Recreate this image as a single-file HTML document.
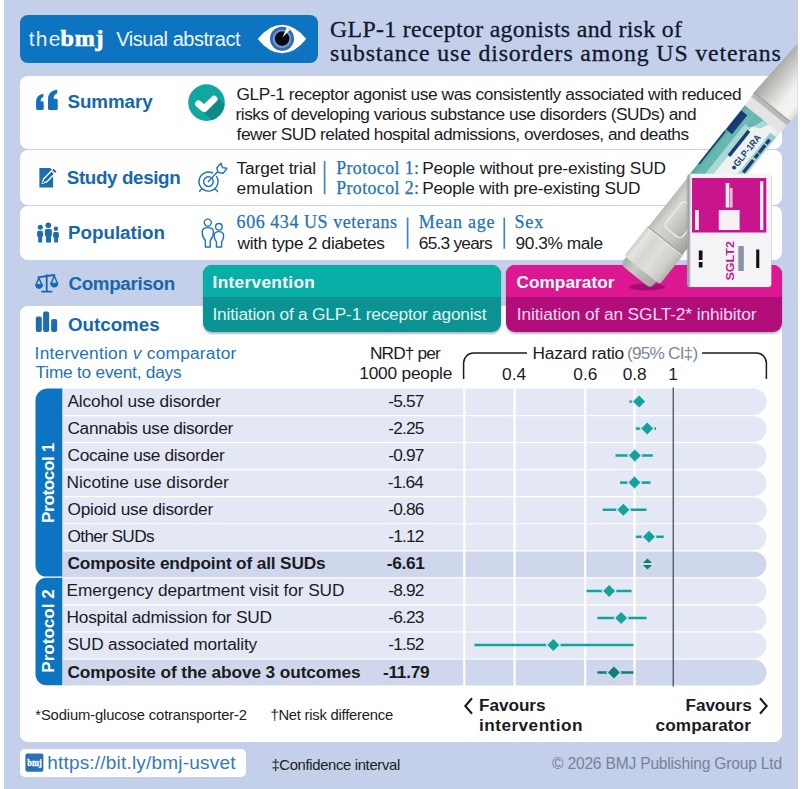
<!DOCTYPE html>
<html lang="en"><head><meta charset="utf-8"><title>GLP-1 receptor agonists and risk of substance use disorders among US veterans</title>
<style>
html,body{margin:0;padding:0;}
body{width:800px;height:789px;position:relative;overflow:hidden;background:#fff;font-family:"Liberation Sans",sans-serif;}
.t{position:absolute;white-space:pre;line-height:1;}
.abs{position:absolute;}
</style></head><body>
<div class="abs" style="left:4px;top:0;width:793.5px;height:789px;background:#c4d0e9;"></div>
<!-- header -->
<div class="abs" style="left:20px;top:15px;width:297.5px;height:47.5px;border-radius:8px;background:#0c74c1;"></div>
<!-- panels -->
<div class="abs" style="left:19.5px;top:76px;width:762.5px;height:73px;border-radius:8px;background:#fff;"></div>
<div class="abs" style="left:19.5px;top:150.4px;width:762.5px;height:54.4px;border-radius:8px;background:#fff;"></div>
<div class="abs" style="left:19.5px;top:206.2px;width:762.5px;height:54px;border-radius:8px;background:#fff;"></div>
<div class="abs" style="left:19.5px;top:305.5px;width:762.5px;height:436.5px;border-radius:8px;background:#fff;"></div>
<div class="abs" style="left:20px;top:749px;width:226px;height:28px;border-radius:5px;background:#fff;"></div>
<!-- comparison boxes -->
<div class="abs" style="left:203px;top:265px;width:298px;height:66.5px;border-radius:9px;background:#0b9393;box-shadow:0 1.5px 2px rgba(40,60,90,.35);overflow:hidden;"><div style="height:32px;background:#07afa7;"></div></div>
<div class="abs" style="left:505.5px;top:265px;width:276px;height:66.5px;border-radius:9px;background:#b20e79;box-shadow:0 1.5px 2px rgba(40,60,90,.35);overflow:hidden;"><div style="height:32px;background:#dc1791;"></div></div>
<!-- main svg layer -->
<svg class="abs" style="left:0;top:0;" width="800" height="789" viewBox="0 0 800 789">
<defs>
<radialGradient id="iris" cx="0.5" cy="0.5" r="0.5"><stop offset="0" stop-color="#7aa6de"/><stop offset="0.72" stop-color="#6f9ad6"/><stop offset="0.8" stop-color="#3a6cb6"/><stop offset="1" stop-color="#2d5fab"/></radialGradient>
<clipPath id="rowsclip"><rect x="0" y="0" width="800" height="789"/></clipPath>
</defs>
<path d="M62.6 388.5 H753.275 A13.225000000000001 13.225000000000001 0 0 1 753.275 414.95 H62.6 Z" fill="#e4e8f5"/>
<path d="M62.6 416.15000000000003 H753.575 A12.925 12.925 0 0 1 753.575 442.00000000000006 H62.6 Z" fill="#e4e8f5"/>
<path d="M62.6 443.20000000000005 H753.575 A12.925 12.925 0 0 1 753.575 469.05000000000007 H62.6 Z" fill="#e4e8f5"/>
<path d="M62.6 470.25 H753.575 A12.925 12.925 0 0 1 753.575 496.1 H62.6 Z" fill="#e4e8f5"/>
<path d="M62.6 497.3 H753.575 A12.925 12.925 0 0 1 753.575 523.15 H62.6 Z" fill="#e4e8f5"/>
<path d="M62.6 524.35 H753.575 A12.925 12.925 0 0 1 753.575 550.2 H62.6 Z" fill="#e4e8f5"/>
<path d="M62.6 551.4000000000001 H753.575 A12.925 12.925 0 0 1 753.575 577.2500000000001 H62.6 Z" fill="#cfd7ec"/>
<path d="M62.6 578.45 H753.575 A12.925 12.925 0 0 1 753.575 604.3000000000001 H62.6 Z" fill="#e4e8f5"/>
<path d="M62.6 605.5 H753.575 A12.925 12.925 0 0 1 753.575 631.35 H62.6 Z" fill="#e4e8f5"/>
<path d="M62.6 632.5500000000001 H753.575 A12.925 12.925 0 0 1 753.575 658.4000000000001 H62.6 Z" fill="#e4e8f5"/>
<path d="M62.6 659.6 H753.575 A12.925 12.925 0 0 1 753.575 685.45 H62.6 Z" fill="#cfd7ec"/>
<rect x="463.2" y="387.5" width="2.2" height="299" fill="#fff"/>
<rect x="513.5" y="387.5" width="2.2" height="299" fill="#fff"/>
<rect x="584.1" y="387.5" width="2.2" height="299" fill="#fff"/>
<rect x="633.4" y="387.5" width="2.2" height="299" fill="#fff"/>
<rect x="672.6" y="387.5" width="1.3" height="299" fill="#4a4f63"/>
<path d="M62.3 388.5 H47.5 A12 12 0 0 0 35.5 400.5 V565.6 A11 11 0 0 0 46.5 576.6 H62.3 Z" fill="#0c74c1"/>
<path d="M62.3 577.8 H46.5 A11 11 0 0 0 35.5 588.8 V674.3 A11 11 0 0 0 46.5 685.3 H62.3 Z" fill="#0c74c1"/>
<path d="M629.5 401.6 H640" stroke="#12a39b" stroke-width="2.5"/>
<path d="M631.3000000000001 401.6 L639.1 393.8 L646.9 401.6 L639.1 409.40000000000003 Z" fill="#e4e8f5"/>
<path d="M633.1 401.6 L639.1 395.6 L645.1 401.6 L639.1 407.6 Z" fill="#12a39b"/>
<path d="M635.8 428.6 H656.1" stroke="#12a39b" stroke-width="2.5"/>
<path d="M639.4000000000001 428.6 L647.2 420.8 L655.0 428.6 L647.2 436.40000000000003 Z" fill="#e4e8f5"/>
<path d="M641.2 428.6 L647.2 422.6 L653.2 428.6 L647.2 434.6 Z" fill="#12a39b"/>
<path d="M615.5 455.6 H652.8" stroke="#12a39b" stroke-width="2.5"/>
<path d="M627.0 455.6 L634.8 447.8 L642.5999999999999 455.6 L634.8 463.40000000000003 Z" fill="#e4e8f5"/>
<path d="M628.8 455.6 L634.8 449.6 L640.8 455.6 L634.8 461.6 Z" fill="#12a39b"/>
<path d="M620.1 482.6 H650.5" stroke="#12a39b" stroke-width="2.5"/>
<path d="M626.7 482.6 L634.5 474.8 L642.3 482.6 L634.5 490.40000000000003 Z" fill="#e4e8f5"/>
<path d="M628.5 482.6 L634.5 476.6 L640.5 482.6 L634.5 488.6 Z" fill="#12a39b"/>
<path d="M602.8 509.7 H646.5" stroke="#12a39b" stroke-width="2.5"/>
<path d="M615.6 509.7 L623.4 501.9 L631.1999999999999 509.7 L623.4 517.5 Z" fill="#e4e8f5"/>
<path d="M617.4 509.7 L623.4 503.7 L629.4 509.7 L623.4 515.7 Z" fill="#12a39b"/>
<path d="M635.8 536.8 H663.7" stroke="#12a39b" stroke-width="2.5"/>
<path d="M641.2 536.8 L649 529.0 L656.8 536.8 L649 544.5999999999999 Z" fill="#e4e8f5"/>
<path d="M643.0 536.8 L649 530.8 L655.0 536.8 L649 542.8 Z" fill="#12a39b"/>
<path d="M641.9 564 L647.5 558.4 L653.1 564 L647.5 569.6 Z" fill="#0e7f79"/>
<path d="M641.4 564 H653.6" stroke="#eef1f9" stroke-width="1.7"/>
<path d="M586.6 591 H631.6" stroke="#12a39b" stroke-width="2.5"/>
<path d="M601.3000000000001 591 L609.1 583.2 L616.9 591 L609.1 598.8 Z" fill="#e4e8f5"/>
<path d="M603.1 591 L609.1 585.0 L615.1 591 L609.1 597.0 Z" fill="#12a39b"/>
<path d="M597.4 618 H646.6" stroke="#12a39b" stroke-width="2.5"/>
<path d="M613.3000000000001 618 L621.1 610.2 L628.9 618 L621.1 625.8 Z" fill="#e4e8f5"/>
<path d="M615.1 618 L621.1 612.0 L627.1 618 L621.1 624.0 Z" fill="#12a39b"/>
<path d="M474.4 645 H633.4" stroke="#12a39b" stroke-width="2.5"/>
<path d="M545.5 645 L553.3 637.2 L561.0999999999999 645 L553.3 652.8 Z" fill="#e4e8f5"/>
<path d="M547.3 645 L553.3 639.0 L559.3 645 L553.3 651.0 Z" fill="#12a39b"/>
<path d="M597.4 672.4 H633.4" stroke="#0e7f79" stroke-width="2.5"/>
<path d="M606.1 672.4 L613.9 664.6 L621.6999999999999 672.4 L613.9 680.1999999999999 Z" fill="#cfd7ec"/>
<path d="M607.9 672.4 L613.9 666.4 L619.9 672.4 L613.9 678.4 Z" fill="#0e7f79"/>
<path d="M463.6 379 V363 A10 10 0 0 1 473.6 353 H527 M702 353 H756.4 A10 10 0 0 1 766.4 363 V379" fill="none" stroke="#1b1b1f" stroke-width="1.5"/>
<path d="M472 698.2 L465.3 706 L472 713.8" fill="none" stroke="#1b1b1f" stroke-width="2.1"/>
<path d="M760 698.2 L766.7 706 L760 713.8" fill="none" stroke="#1b1b1f" stroke-width="2.1"/>
<!-- eye -->
<path d="M257.8 39 Q269 24.8 282 24.8 Q295 24.8 306.2 39 Q295 53.2 282 53.2 Q269 53.2 257.8 39 Z" fill="#fff"/>
<circle cx="282" cy="38.8" r="12" fill="url(#iris)"/>
<circle cx="282.1" cy="38.6" r="7.3" fill="#070a12"/>
<path d="M282.4 37.6 L286.8 27.6 L289.9 29.9 Z" fill="#fff"/>
<!-- check icon -->
<circle cx="206.5" cy="102.6" r="18.3" fill="#10a7a1"/>
<path d="M200 108.5 L204.2 112.7 L211.66 120.16 A18.3 18.3 0 0 0 224.7 104.7 L216.5 96.5 Z" fill="#0e8b89"/>
<path d="M198.5 103.8 L204.2 108.7 L214.1 99.1" fill="none" stroke="#fff" stroke-width="6.8" stroke-linecap="round" stroke-linejoin="round"/>
<!-- ICONS -->
<g fill="#1d6db3">
<!-- quote -->
<path d="M36.1 108.5 V101.5 Q36.1 95.5 42.3 94 Q43.6 93.8 43.5 95 L43.2 97 Q40.6 98 40.5 101.2 L42.4 101.2 Q43.7 101.2 43.7 102.5 V108.6 Q43.7 109.9 42.4 109.9 H37.4 Q36.1 109.9 36.1 108.5 Z" fill="#1270be"/>
<path d="M48 108.4 V99 Q48 91.5 56 89.7 Q57.6 89.5 57.4 91 L57 93.5 Q53.8 94.6 53.6 98.8 L56.2 98.8 Q57.7 98.8 57.7 100.3 V108.4 Q57.7 109.9 56.2 109.9 H49.5 Q48 109.9 48 108.4 Z" fill="#1270be"/>
<!-- study design -->
<path d="M39.4 168.1 H50.2 L53.1 171 V187.6 H39.4 Z"/>
<!-- population -->
<g>
<circle cx="48.3" cy="225.3" r="2.8"/><path d="M44.8 230.8 Q44.8 228.9 46.7 228.9 H50 Q51.9 228.9 51.9 230.8 V235.3 L51 236.8 V242.6 H46 V236.8 L44.8 235.3 Z"/>
<circle cx="40.3" cy="227.3" r="2.5"/><path d="M37.1 232.4 Q37.1 230.75 38.8 230.75 H41.3 Q43 230.75 43 232.4 V236 L42.1 237.2 V242.6 H38.2 V237.2 L37.1 236 Z"/>
<circle cx="55.9" cy="228.7" r="2.2"/><path d="M53.1 233.6 Q53.1 232.1 54.6 232.1 H57.4 Q58.9 232.1 58.9 233.6 V237 L58 238.2 V242.6 H54.2 V238.2 L53.1 237 Z"/>
</g>
<!-- outcomes bars -->
<rect x="35.8" y="316.6" width="6" height="15.5" rx="2"/><rect x="43.1" y="311.5" width="6.1" height="20.6" rx="2"/><rect x="51.1" y="319" width="6.1" height="13.1" rx="2"/>
</g>
<!-- study pencil -->
<path d="M42.3 183.3 L43.6 178.97 L51.63 170.75 L54.63 173.69 L46.6 181.9 Z" fill="#1269b3" stroke="#fff" stroke-width="1.4" stroke-linejoin="round"/>
<path d="M42.3 183.3 L42.88 181.35 L44.24 182.68 Z" fill="#1c3f66"/>
<path d="M52.19 170.18 L53.59 168.75 L56.59 171.69 L55.19 173.12 Z" fill="#1c3f66" stroke="#fff" stroke-width="0.5"/>
<!-- scales -->
<g fill="none" stroke="#1269b3" stroke-width="1.9" stroke-linecap="round" stroke-linejoin="round">
<path d="M46.7 275.3 V291.2 M42 291.6 H51.6 M38.4 277.4 L46.7 276 L54.4 275"/>
<path d="M38.8 278 L36.3 284.6 M38.8 278 L41.9 284.6 M54.2 275.8 L51.2 283.2 M54.2 275.8 L57.4 283.2" stroke-width="1.5"/>
</g>
<path d="M35.5 284.6 H42.7 Q42.4 288.6 39.1 288.6 Q35.8 288.6 35.5 284.6 Z M50.5 283.2 H58.1 Q57.8 287.2 54.3 287.2 Q50.8 287.2 50.5 283.2 Z" fill="#1269b3" stroke="#1269b3" stroke-width="0.8" stroke-linejoin="round"/>
<!-- target icon -->
<g fill="none" stroke="#2273b6" stroke-width="1.45" stroke-linecap="round" stroke-linejoin="round">
<path d="M216.6 176.6 A9.5 9.5 0 1 1 212.6 173"/>
<path d="M212.3 178.8 A4.8 4.8 0 1 1 210.3 177.2"/>
<path d="M208.4 181.6 L217.6 171.8"/>
<path d="M221 163.3 L222.4 167.6 L226.8 168.3 L223.2 173.3 L217.8 172.2 L216.9 167.7 Z"/>
<path d="M202.2 188.5 L199.6 191.3 M214.6 188.5 L217.6 191.5"/>
</g>
<!-- people outline icon -->
<g fill="none" stroke="#2273b6" stroke-width="1.4" stroke-linejoin="round">
<circle cx="207.8" cy="222.6" r="3.5"/><path d="M205.3 247 V240.5 Q202.2 237 202.2 232 Q202.2 227.6 207.8 227.6 Q213.4 227.6 213.4 232 Q213.4 237 210.3 240.5 V247 Z"/>
<circle cx="218.9" cy="226.8" r="3.3"/><path d="M216.4 247 V242 Q214.2 239 214.2 235.5 Q214.2 231.6 218.9 231.6 Q223.6 231.6 223.6 235.5 Q223.6 239 221.6 242 V247 Z"/>
</g>
<!-- dividers -->
<g stroke="#3f86c2" stroke-width="1.7"><path d="M324.6 161 V194.3 M407.6 217.5 V248.8 M504.3 217.5 V248.8"/></g>
<!-- PEN + SGLT2 box -->
<defs>
<clipPath id="penclip"><rect x="4" y="0" width="793.5" height="789"/></clipPath>
<linearGradient id="gcap" gradientUnits="userSpaceOnUse" x1="-22.5" y1="0" x2="22.5" y2="0"><stop offset="0" stop-color="#cfcfcc"/><stop offset="0.1" stop-color="#e4e4e1"/><stop offset="0.3" stop-color="#d6d6d3"/><stop offset="0.55" stop-color="#dededb"/><stop offset="0.85" stop-color="#cdcdca"/><stop offset="1" stop-color="#b4b4b1"/></linearGradient>
<linearGradient id="gtip" gradientUnits="userSpaceOnUse" x1="-21" y1="0" x2="19" y2="0"><stop offset="0" stop-color="#a9aba8"/><stop offset="0.35" stop-color="#c9cac7"/><stop offset="1" stop-color="#a3a4a1"/></linearGradient>
<linearGradient id="gbody" gradientUnits="userSpaceOnUse" x1="-22.5" y1="0" x2="22.5" y2="0"><stop offset="0" stop-color="#b9b9b6"/><stop offset="0.2" stop-color="#d3d3d0"/><stop offset="0.6" stop-color="#c5c5c2"/><stop offset="1" stop-color="#9c9c99"/></linearGradient>
<linearGradient id="gwin" gradientUnits="userSpaceOnUse" x1="-11" y1="0" x2="11" y2="0"><stop offset="0" stop-color="#d9d9d6"/><stop offset="1" stop-color="#aeaeab"/></linearGradient>
<linearGradient id="gup" gradientUnits="userSpaceOnUse" x1="-23.5" y1="0" x2="23.5" y2="0"><stop offset="0" stop-color="#a6a6a3"/><stop offset="0.25" stop-color="#c4c4c1"/><stop offset="0.6" stop-color="#efefed"/><stop offset="0.85" stop-color="#f4f4f2"/><stop offset="1" stop-color="#dcdcda"/></linearGradient>
<linearGradient id="gshade" gradientUnits="userSpaceOnUse" x1="-22.5" y1="0" x2="22.5" y2="0"><stop offset="0" stop-color="#000" stop-opacity="0.12"/><stop offset="0.12" stop-color="#000" stop-opacity="0"/><stop offset="0.8" stop-color="#fff" stop-opacity="0"/><stop offset="1" stop-color="#000" stop-opacity="0.06"/></linearGradient>
<linearGradient id="gboxside" x1="0" y1="0" x2="1" y2="0"><stop offset="0" stop-color="#8f8f93"/><stop offset="1" stop-color="#c9c8cd"/></linearGradient>
</defs>
<g clip-path="url(#penclip)">
<ellipse cx="647" cy="287" rx="18" ry="3.6" fill="#86095c" opacity="0.6"/>
<g transform="translate(642.3 269.7) rotate(38.6)">
  <!-- upper body -->
  <path d="M-23.5 -207 L-16 -340 L23.5 -340 L23.5 -207 Z" fill="url(#gup)"/>
  <!-- ring -->
  <rect x="-23" y="-208" width="46" height="5" fill="#b9b9b5"/>
  <rect x="-23" y="-208.6" width="46" height="1.1" fill="#9f9f9b"/>
  <rect x="-23" y="-203.6" width="46" height="1" fill="#c9c9c6"/>
  <!-- white gap -->
  <rect x="-22.5" y="-202.8" width="45" height="11" fill="#e3e5e4"/>
  <!-- label -->
  <rect x="-22.5" y="-192.5" width="45" height="92" fill="#eef2f1"/>
  <rect x="-10.5" y="-180" width="6.5" height="79.5" fill="#a8d8d3"/>
  <rect x="-22.5" y="-192.5" width="12" height="92" fill="#68b8b2"/>
  <path d="M-10.5 -192.5 H2 L-2 -182 Q-4 -178 -7 -178 H-10.5 Z" fill="#68b8b2"/>
  <path d="M2 -192.5 H8 L5 -186 Q3.5 -183 0.5 -182.5 L-2 -182 Z" fill="#a8d8d3"/>
  <rect x="14.5" y="-186" width="7" height="85.5" fill="#a8d8d3"/>
  <rect x="14.5" y="-187" width="7" height="9" fill="#8fd2cb"/>
  <rect x="-22" y="-186.2" width="7.6" height="24.4" fill="#1a3c77"/>
  <rect x="-22.5" y="-160" width="1.8" height="42" fill="#1f4a7d"/>
  <rect x="-5" y="-175" width="3.5" height="32" fill="#1a3c77"/>
  <g fill="#1a3c77"><rect x="16.6" y="-181" width="3.4" height="5.5"/><rect x="16.6" y="-174" width="3.4" height="10"/><rect x="16.6" y="-163" width="3.4" height="5.5"/><rect x="16.6" y="-155" width="3.4" height="16"/><rect x="16.6" y="-136" width="3.4" height="5"/><rect x="16.6" y="-128" width="3.4" height="14"/></g>
  <rect x="-22.5" y="-192.5" width="45" height="92" fill="url(#gshade)"/>
  <g transform="translate(10.7 -134.5) rotate(-90)"><text x="0" y="0" font-family="'Liberation Sans', sans-serif" font-weight="700" font-size="9.3" fill="#1a3c77" textLength="43" lengthAdjust="spacingAndGlyphs">●GLP-1RA</text></g>
  <!-- lower body -->
  <rect x="-22" y="-101" width="44" height="65" fill="url(#gbody)"/>
  <rect x="-11" y="-80" width="22" height="32.5" rx="4.5" fill="url(#gwin)" stroke="#ecece9" stroke-width="1.5"/>
  <!-- tip -->
  <path d="M-20.5 -2 H18.5 V-4 L18.5 4 Q18.5 9.5 13 9.5 H-15 Q-20.5 9.5 -20.5 4 Z" fill="url(#gtip)"/>
  <!-- cap -->
  <path d="M-22.8 -37 H22.8 V-2.5 Q22.8 0.5 19.8 0.5 H-19.8 Q-22.8 0.5 -22.8 -2.5 Z" fill="url(#gcap)"/>
  <rect x="-22.8" y="-37.6" width="45.6" height="1.1" fill="#9d9d9a"/>
  <rect x="-22.8" y="-36.5" width="45.6" height="1" fill="#f0f0ee" opacity="0.75"/>
</g>
<!-- SGLT2 box -->
<rect x="686.4" y="174.8" width="85.6" height="113.4" rx="3.5" fill="#7d7690" opacity="0.3"/>
<rect x="687.5" y="173.8" width="83.8" height="113.2" rx="3.2" fill="#f4f3f5"/>
<path d="M687.5 177 Q687.5 173.8 690.5 173.8 V287 Q687.5 287 687.5 283.8 Z" fill="url(#gboxside)"/>
<rect x="692" y="178" width="74.3" height="54.5" fill="#c9158d"/>
<g fill="#f7f1f6"><rect x="695" y="210" width="3.8" height="20"/><rect x="718.8" y="210" width="20.8" height="20"/><rect x="725.7" y="183" width="3.6" height="24.5"/><rect x="760" y="181.3" width="3.3" height="48.7"/></g>
<rect x="729.8" y="188" width="2.8" height="19.5" fill="#f1b8dc"/>
<g fill="#111"><rect x="698.8" y="250.5" width="3.7" height="9.5"/><rect x="698.8" y="262" width="3.7" height="5.5"/><rect x="756.2" y="249.5" width="3.1" height="18.5"/></g>
<rect x="738.3" y="246" width="5.5" height="25" fill="#8b93a6"/>
<g transform="translate(734 280.5) rotate(-90)"><text x="0" y="0" font-family="'Liberation Sans', sans-serif" font-weight="700" font-size="11.2" fill="#c9158d" textLength="39.5" lengthAdjust="spacingAndGlyphs">SGLT2</text></g>
</g>
<!-- bmj icon -->
<rect x="25.4" y="753.4" width="18" height="18.4" rx="2" fill="#2a6fb5"/>
<text x="27.3" y="765.6" font-family="'Liberation Serif', serif" font-weight="700" font-size="9.4" fill="#fff" stroke="#fff" stroke-width="0.3" textLength="14.4" lengthAdjust="spacingAndGlyphs">bmj</text>

</svg>
<span class="t" style="left:28.75px;top:28.00px;font-size:21px;font-family:'Liberation Sans', sans-serif;font-weight:400;color:#e8f1fa;letter-spacing:1.238px;">the</span>
<span class="t" style="left:60.50px;top:26.00px;font-size:24px;font-family:'Liberation Serif', serif;font-weight:700;color:#ffffff;letter-spacing:0.824px;-webkit-text-stroke:0.7px #ffffff;">bmj</span>
<span class="t" style="left:116.30px;top:29.00px;font-size:20px;font-family:'Liberation Sans', sans-serif;font-weight:400;color:#f2f7fc;letter-spacing:-0.468px;">Visual abstract</span>
<span class="t" style="left:330.00px;top:18.00px;font-size:23.8px;font-family:'Liberation Serif', serif;font-weight:400;color:#10182e;letter-spacing:0.340px;-webkit-text-stroke:0.3px #10182e;">GLP-1 receptor agonists and risk of</span>
<span class="t" style="left:330.00px;top:42.00px;font-size:23.8px;font-family:'Liberation Serif', serif;font-weight:400;color:#10182e;letter-spacing:0.876px;-webkit-text-stroke:0.3px #10182e;">substance use disorders among US veterans</span>
<span class="t" style="left:67.50px;top:93.00px;font-size:18.8px;font-family:'Liberation Sans', sans-serif;font-weight:700;color:#1767ae;letter-spacing:-0.077px;">Summary</span>
<span class="t" style="left:66.80px;top:169.00px;font-size:18.8px;font-family:'Liberation Sans', sans-serif;font-weight:700;color:#1767ae;letter-spacing:-0.368px;">Study design</span>
<span class="t" style="left:68.10px;top:224.00px;font-size:18.8px;font-family:'Liberation Sans', sans-serif;font-weight:700;color:#1767ae;letter-spacing:-0.029px;">Population</span>
<span class="t" style="left:68.40px;top:275.00px;font-size:18.8px;font-family:'Liberation Sans', sans-serif;font-weight:700;color:#1767ae;letter-spacing:-0.312px;">Comparison</span>
<span class="t" style="left:68.00px;top:316.00px;font-size:18.8px;font-family:'Liberation Sans', sans-serif;font-weight:700;color:#1767ae;letter-spacing:-0.028px;">Outcomes</span>
<span class="t" style="left:236.60px;top:86.00px;font-size:17.3px;font-family:'Liberation Sans', sans-serif;font-weight:400;color:#1b1b1f;letter-spacing:-0.412px;">GLP-1 receptor agonist use was consistently associated with reduced</span>
<span class="t" style="left:235.60px;top:106.00px;font-size:17.3px;font-family:'Liberation Sans', sans-serif;font-weight:400;color:#1b1b1f;letter-spacing:-0.489px;">risks of developing various substance use disorders (SUDs) and</span>
<span class="t" style="left:236.60px;top:126.00px;font-size:17.3px;font-family:'Liberation Sans', sans-serif;font-weight:400;color:#1b1b1f;letter-spacing:-0.487px;">fewer SUD related hospital admissions, overdoses, and deaths</span>
<span class="t" style="left:236.60px;top:160.00px;font-size:17.3px;font-family:'Liberation Sans', sans-serif;font-weight:400;color:#1b1b1f;letter-spacing:-0.113px;">Target trial</span>
<span class="t" style="left:236.60px;top:180.00px;font-size:17.3px;font-family:'Liberation Sans', sans-serif;font-weight:400;color:#1b1b1f;letter-spacing:0.159px;">emulation</span>
<span class="t" style="left:336.20px;top:160.00px;font-size:17.8px;font-family:'Liberation Serif', serif;font-weight:400;color:#2472b6;letter-spacing:0.421px;-webkit-text-stroke:0.25px #2472b6;">Protocol 1:</span>
<span class="t" style="left:422.20px;top:160.00px;font-size:17.3px;font-family:'Liberation Sans', sans-serif;font-weight:400;color:#1b1b1f;letter-spacing:-0.167px;">People without pre-existing SUD</span>
<span class="t" style="left:336.20px;top:180.00px;font-size:17.8px;font-family:'Liberation Serif', serif;font-weight:400;color:#2472b6;letter-spacing:0.421px;-webkit-text-stroke:0.25px #2472b6;">Protocol 2:</span>
<span class="t" style="left:422.20px;top:180.00px;font-size:17.3px;font-family:'Liberation Sans', sans-serif;font-weight:400;color:#1b1b1f;letter-spacing:-0.240px;">People with pre-existing SUD</span>
<span class="t" style="left:236.60px;top:213.00px;font-size:18px;font-family:'Liberation Serif', serif;font-weight:400;color:#2472b6;letter-spacing:0.551px;-webkit-text-stroke:0.25px #2472b6;">606 434 US veterans</span>
<span class="t" style="left:237.60px;top:235.00px;font-size:17.3px;font-family:'Liberation Sans', sans-serif;font-weight:400;color:#1b1b1f;letter-spacing:-0.285px;">with type 2 diabetes</span>
<span class="t" style="left:418.80px;top:213.00px;font-size:18px;font-family:'Liberation Serif', serif;font-weight:400;color:#2472b6;letter-spacing:0.746px;-webkit-text-stroke:0.25px #2472b6;">Mean age</span>
<span class="t" style="left:418.80px;top:235.00px;font-size:17.3px;font-family:'Liberation Sans', sans-serif;font-weight:400;color:#1b1b1f;letter-spacing:-0.762px;">65.3 years</span>
<span class="t" style="left:514.50px;top:213.00px;font-size:18px;font-family:'Liberation Serif', serif;font-weight:400;color:#2472b6;letter-spacing:0.850px;-webkit-text-stroke:0.25px #2472b6;">Sex</span>
<span class="t" style="left:515.50px;top:235.00px;font-size:17.3px;font-family:'Liberation Sans', sans-serif;font-weight:400;color:#1b1b1f;letter-spacing:-0.406px;">90.3% male</span>
<span class="t" style="left:212.50px;top:274.00px;font-size:17.2px;font-family:'Liberation Sans', sans-serif;font-weight:700;color:#ffffff;letter-spacing:0.358px;">Intervention</span>
<span class="t" style="left:212.50px;top:306.00px;font-size:17.3px;font-family:'Liberation Sans', sans-serif;font-weight:400;color:#def6f3;letter-spacing:-0.199px;">Initiation of a GLP-1 receptor agonist</span>
<span class="t" style="left:516.40px;top:274.00px;font-size:17.2px;font-family:'Liberation Sans', sans-serif;font-weight:700;color:#ffffff;letter-spacing:0.074px;">Comparator</span>
<span class="t" style="left:516.80px;top:306.00px;font-size:17.3px;font-family:'Liberation Sans', sans-serif;font-weight:400;color:#fcdcf0;letter-spacing:-0.093px;">Initiation of an SGLT-2* inhibitor</span>
<span class="t" style="left:34.60px;top:345.00px;font-size:17.3px;font-family:'Liberation Sans', sans-serif;font-weight:400;color:#2472b6;letter-spacing:0.241px;">Intervention <i>v</i> comparator</span>
<span class="t" style="left:35.60px;top:364.00px;font-size:17.3px;font-family:'Liberation Sans', sans-serif;font-weight:400;color:#2472b6;letter-spacing:-0.229px;">Time to event, days</span>
<span class="t" style="left:370.00px;top:345.00px;font-size:17.3px;font-family:'Liberation Sans', sans-serif;font-weight:400;color:#1b1b1f;letter-spacing:-0.870px;">NRD† per</span>
<span class="t" style="left:359.30px;top:365.00px;font-size:17.3px;font-family:'Liberation Sans', sans-serif;font-weight:400;color:#1b1b1f;letter-spacing:-0.213px;">1000 people</span>
<span class="t" style="left:532.60px;top:345.00px;font-size:17.3px;font-family:'Liberation Sans', sans-serif;font-weight:400;color:#1b1b1f;letter-spacing:-0.230px;">Hazard ratio</span>
<span class="t" style="left:627.00px;top:345.00px;font-size:17.3px;font-family:'Liberation Sans', sans-serif;font-weight:400;color:#7d8796;letter-spacing:-0.830px;">(95% CI‡)</span>
<span class="t" style="left:502.09px;top:366.00px;font-size:17.3px;font-family:'Liberation Sans', sans-serif;font-weight:400;color:#1b1b1f;letter-spacing:0.000px;">0.4</span>
<span class="t" style="left:573.29px;top:366.00px;font-size:17.3px;font-family:'Liberation Sans', sans-serif;font-weight:400;color:#1b1b1f;letter-spacing:0.000px;">0.6</span>
<span class="t" style="left:622.69px;top:366.00px;font-size:17.3px;font-family:'Liberation Sans', sans-serif;font-weight:400;color:#1b1b1f;letter-spacing:0.000px;">0.8</span>
<span class="t" style="left:668.19px;top:366.00px;font-size:17.3px;font-family:'Liberation Sans', sans-serif;font-weight:400;color:#1b1b1f;letter-spacing:0.000px;">1</span>
<span class="t" style="left:67.50px;top:393.00px;font-size:17.3px;font-family:'Liberation Sans', sans-serif;font-weight:400;color:#1b1b1f;letter-spacing:-0.175px;">Alcohol use disorder</span>
<span class="t" style="left:388.16px;top:393.00px;font-size:17.3px;font-family:'Liberation Sans', sans-serif;font-weight:400;color:#1b1b1f;letter-spacing:-0.776px;">-5.57</span>
<span class="t" style="left:67.50px;top:420.00px;font-size:17.3px;font-family:'Liberation Sans', sans-serif;font-weight:400;color:#1b1b1f;letter-spacing:-0.358px;">Cannabis use disorder</span>
<span class="t" style="left:388.16px;top:420.00px;font-size:17.3px;font-family:'Liberation Sans', sans-serif;font-weight:400;color:#1b1b1f;letter-spacing:-0.776px;">-2.25</span>
<span class="t" style="left:67.50px;top:447.00px;font-size:17.3px;font-family:'Liberation Sans', sans-serif;font-weight:400;color:#1b1b1f;letter-spacing:-0.319px;">Cocaine use disorder</span>
<span class="t" style="left:388.16px;top:447.00px;font-size:17.3px;font-family:'Liberation Sans', sans-serif;font-weight:400;color:#1b1b1f;letter-spacing:-0.776px;">-0.97</span>
<span class="t" style="left:66.50px;top:474.00px;font-size:17.3px;font-family:'Liberation Sans', sans-serif;font-weight:400;color:#1b1b1f;letter-spacing:-0.004px;">Nicotine use disorder</span>
<span class="t" style="left:387.70px;top:474.00px;font-size:17.3px;font-family:'Liberation Sans', sans-serif;font-weight:400;color:#1b1b1f;letter-spacing:-0.796px;">-1.64</span>
<span class="t" style="left:67.50px;top:501.00px;font-size:17.3px;font-family:'Liberation Sans', sans-serif;font-weight:400;color:#1b1b1f;letter-spacing:-0.228px;">Opioid use disorder</span>
<span class="t" style="left:388.16px;top:501.00px;font-size:17.3px;font-family:'Liberation Sans', sans-serif;font-weight:400;color:#1b1b1f;letter-spacing:-0.776px;">-0.86</span>
<span class="t" style="left:67.50px;top:528.00px;font-size:17.3px;font-family:'Liberation Sans', sans-serif;font-weight:400;color:#1b1b1f;letter-spacing:-0.668px;">Other SUDs</span>
<span class="t" style="left:388.16px;top:528.00px;font-size:17.3px;font-family:'Liberation Sans', sans-serif;font-weight:400;color:#1b1b1f;letter-spacing:-0.776px;">-1.12</span>
<span class="t" style="left:67.50px;top:555.00px;font-size:17.3px;font-family:'Liberation Sans', sans-serif;font-weight:700;color:#1b1b1f;letter-spacing:-0.171px;">Composite endpoint of all SUDs</span>
<span class="t" style="left:386.71px;top:555.00px;font-size:17.3px;font-family:'Liberation Sans', sans-serif;font-weight:700;color:#1b1b1f;letter-spacing:-0.298px;">-6.61</span>
<span class="t" style="left:66.50px;top:582.00px;font-size:17.3px;font-family:'Liberation Sans', sans-serif;font-weight:400;color:#1b1b1f;letter-spacing:-0.075px;">Emergency department visit for SUD</span>
<span class="t" style="left:388.16px;top:582.00px;font-size:17.3px;font-family:'Liberation Sans', sans-serif;font-weight:400;color:#1b1b1f;letter-spacing:-0.776px;">-8.92</span>
<span class="t" style="left:66.50px;top:609.00px;font-size:17.3px;font-family:'Liberation Sans', sans-serif;font-weight:400;color:#1b1b1f;letter-spacing:-0.233px;">Hospital admission for SUD</span>
<span class="t" style="left:388.16px;top:609.00px;font-size:17.3px;font-family:'Liberation Sans', sans-serif;font-weight:400;color:#1b1b1f;letter-spacing:-0.776px;">-6.23</span>
<span class="t" style="left:67.50px;top:636.00px;font-size:17.3px;font-family:'Liberation Sans', sans-serif;font-weight:400;color:#1b1b1f;letter-spacing:-0.190px;">SUD associated mortality</span>
<span class="t" style="left:388.16px;top:636.00px;font-size:17.3px;font-family:'Liberation Sans', sans-serif;font-weight:400;color:#1b1b1f;letter-spacing:-0.776px;">-1.52</span>
<span class="t" style="left:67.50px;top:664.00px;font-size:17.3px;font-family:'Liberation Sans', sans-serif;font-weight:700;color:#1b1b1f;letter-spacing:-0.113px;">Composite of the above 3 outcomes</span>
<span class="t" style="left:382.99px;top:664.00px;font-size:17.3px;font-family:'Liberation Sans', sans-serif;font-weight:700;color:#1b1b1f;letter-spacing:-0.285px;">-11.79</span>
<span class="t" style="left:35.30px;top:708.00px;font-size:14.8px;font-family:'Liberation Sans', sans-serif;font-weight:400;color:#1b1b1f;letter-spacing:-0.153px;">*Sodium-glucose cotransporter-2</span>
<span class="t" style="left:270.40px;top:708.00px;font-size:14.8px;font-family:'Liberation Sans', sans-serif;font-weight:400;color:#1b1b1f;letter-spacing:-0.236px;">†Net risk difference</span>
<span class="t" style="left:271.40px;top:758.00px;font-size:14.8px;font-family:'Liberation Sans', sans-serif;font-weight:400;color:#1b1b1f;letter-spacing:-0.322px;">‡Confidence interval</span>
<span class="t" style="left:47.20px;top:753.00px;font-size:19px;font-family:'Liberation Sans', sans-serif;font-weight:400;color:#3579ba;letter-spacing:0.198px;">https://bit.ly/bmj-usvet</span>
<span class="t" style="left:552.00px;top:756.00px;font-size:15.6px;font-family:'Liberation Sans', sans-serif;font-weight:400;color:#778297;letter-spacing:-0.198px;">© 2026 BMJ Publishing Group Ltd</span>
<span class="t" style="left:479.00px;top:697.00px;font-size:17.2px;font-family:'Liberation Sans', sans-serif;font-weight:700;color:#1b1b1f;letter-spacing:-0.053px;">Favours</span>
<span class="t" style="left:479.00px;top:717.00px;font-size:17.2px;font-family:'Liberation Sans', sans-serif;font-weight:700;color:#1b1b1f;letter-spacing:0.467px;">intervention</span>
<span class="t" style="left:685.60px;top:697.00px;font-size:17.2px;font-family:'Liberation Sans', sans-serif;font-weight:700;color:#1b1b1f;letter-spacing:-0.119px;">Favours</span>
<span class="t" style="left:655.60px;top:717.00px;font-size:17.2px;font-family:'Liberation Sans', sans-serif;font-weight:700;color:#1b1b1f;letter-spacing:0.081px;">comparator</span>
<div class="t" style="left:48.9px;top:483px;width:0;height:0;"><div style="position:absolute;transform:translate(-50%,-50%) rotate(-90deg);font-weight:700;font-size:17.2px;color:#fff;letter-spacing:-0.42px;white-space:pre;line-height:1;">Protocol 1</div></div>
<div class="t" style="left:48.9px;top:631px;width:0;height:0;"><div style="position:absolute;transform:translate(-50%,-50%) rotate(-90deg);font-weight:700;font-size:17.2px;color:#fff;letter-spacing:-0.08px;white-space:pre;line-height:1;">Protocol 2</div></div>

</body></html>
